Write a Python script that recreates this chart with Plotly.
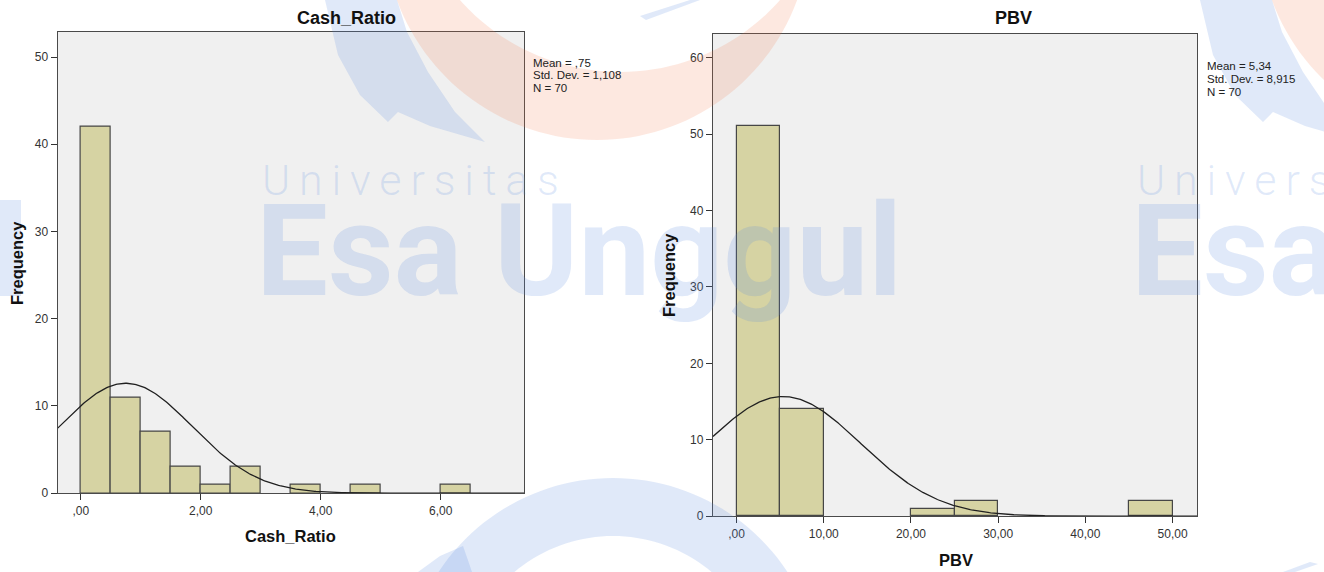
import numpy as np
import plotly.graph_objects as go

# ---------------- data ----------------
cash_bin_start = 0.0
cash_bin_width = 0.5
cash_counts = [42, 11, 7, 3, 1, 3, 0, 1, 0, 1, 0, 0, 1]
cash_mean, cash_sd, cash_n = 0.75, 1.108, 70
cash_tickvals = [0, 2, 4, 6]
cash_ticktext = [",00", "2,00", "4,00", "6,00"]
cash_yticks = [0, 10, 20, 30, 40, 50]
cash_stats = ["Mean = ,75", "Std. Dev. = 1,108", "N = 70"]

pbv_bin_start = 0.0
pbv_bin_width = 5.0
pbv_counts = [51, 14, 0, 0, 1, 2, 0, 0, 0, 2]
pbv_mean, pbv_sd, pbv_n = 5.34, 8.915, 70
pbv_tickvals = [0, 10, 20, 30, 40, 50]
pbv_ticktext = [",00", "10,00", "20,00", "30,00", "40,00", "50,00"]
pbv_yticks = [0, 10, 20, 30, 40, 50, 60]
pbv_stats = ["Mean = 5,34", "Std. Dev. = 8,915", "N = 70"]

# ---------------- layout helpers (pixel -> paper) ----------------
W, H = 1324, 572
def px(x):
    return x / W
def py(y):
    return 1 - y / H

FONT = "Liberation Sans, Arial, sans-serif"
BAR_FILL = "#d6d3a3"
BAR_LINE = "#464646"
PLOT_BG = "#f0f0f0"

fig = go.Figure()

def add_hist(xa, ya, start, width, counts, mean, sd, n, xrange_):
    centers = [start + width * (i + 0.5) for i, c in enumerate(counts) if c > 0]
    vals = [c for c in counts if c > 0]
    fig.add_trace(go.Bar(
        x=centers, y=vals, width=width,
        marker=dict(color=BAR_FILL, line=dict(color=BAR_LINE, width=1.2)),
        xaxis=xa, yaxis=ya, showlegend=False, hoverinfo="skip"))
    xs = np.linspace(xrange_[0], xrange_[1], 400)
    ys = n * width / (sd * np.sqrt(2 * np.pi)) * np.exp(-0.5 * ((xs - mean) / sd) ** 2)
    fig.add_trace(go.Scatter(
        x=xs, y=ys, mode="lines", line=dict(color="#202020", width=1.3),
        xaxis=xa, yaxis=ya, showlegend=False, hoverinfo="skip"))

cash_xrange = [-0.385, 7.39]
pbv_xrange = [-2.7, 52.8]
add_hist("x", "y", cash_bin_start, cash_bin_width, cash_counts, cash_mean, cash_sd, cash_n, cash_xrange)
add_hist("x2", "y2", pbv_bin_start, pbv_bin_width, pbv_counts, pbv_mean, pbv_sd, pbv_n, pbv_xrange)

axis_common = dict(showline=True, mirror=True, linecolor="#4a4a4a", linewidth=1.3,
                   showgrid=False, zeroline=False, ticks="outside", ticklen=6,
                   tickcolor="#333", tickwidth=1.3,
                   tickfont=dict(family=FONT, size=12, color="#333"), automargin=False)

fig.update_layout(
    width=W, height=H, margin=dict(l=0, r=0, t=0, b=0),
    paper_bgcolor="white", plot_bgcolor=PLOT_BG,
    bargap=0,
    xaxis=dict(domain=[px(57.7), px(524)], range=cash_xrange,
               tickvals=cash_tickvals, ticktext=cash_ticktext, anchor="y", **axis_common),
    yaxis=dict(domain=[py(493.2), py(31.7)], range=[0, 52.9],
               tickvals=cash_yticks, anchor="x", **axis_common),
    xaxis2=dict(domain=[px(713), px(1197)], range=pbv_xrange,
                tickvals=pbv_tickvals, ticktext=pbv_ticktext, anchor="y2", **axis_common),
    yaxis2=dict(domain=[py(516.2), py(33.9)], range=[0, 63.1],
                tickvals=pbv_yticks, anchor="x2", **axis_common),
)

# ---------------- watermark (decoration) ----------------
def circle_pts(cx, cy, r, n=160):
    t = np.linspace(0, 2 * np.pi, n, endpoint=False)
    return [(cx + r * np.cos(a), cy + r * np.sin(a)) for a in t]

def poly_path(pts):
    s = "M " + " L ".join(f"{px(x):.5f},{py(y):.5f}" for x, y in pts) + " Z"
    return s

ORANGE = "rgba(245,120,70,0.17)"
BLUE = "rgba(90,140,225,0.19)"

shapes = []
for dx in [0, 875]:
    # orange crescent
    p = poly_path(circle_pts(597 + dx, -73, 213)) + " " + poly_path(circle_pts(620 + dx, -142, 214))
    shapes.append(dict(type="path", path=p, xref="paper", yref="paper", fillcolor=ORANGE,
                       line=dict(width=0), fillrule="evenodd", layer="above"))
    # blue hook
    hook = [(325, 0), (338, 55), (360, 95), (388, 122), (398, 112), (430, 126), (485, 142),
            (455, 112), (428, 72), (407, 32), (397, 0)]
    shapes.append(dict(type="path", path=poly_path([(x + dx, y) for x, y in hook]),
                       xref="paper", yref="paper", fillcolor=BLUE, line=dict(width=0), layer="above"))
    # small blue streak
    streak = [(640, 16), (690, 0), (700, 0), (646, 20)]
    shapes.append(dict(type="path", path=poly_path([(x + dx, y) for x, y in streak]),
                       xref="paper", yref="paper", fillcolor=BLUE, line=dict(width=0), layer="above"))

# bottom blue ring
p = poly_path(circle_pts(613, 687, 209)) + " " + poly_path(circle_pts(613, 689, 153))
shapes.append(dict(type="path", path=p, xref="paper", yref="paper", fillcolor=BLUE,
                   line=dict(width=0), fillrule="evenodd", layer="above"))
tail = [(418, 572), (440, 556), (463, 546), (472, 572)]
shapes.append(dict(type="path", path=poly_path(tail), xref="paper", yref="paper",
                   fillcolor=BLUE, line=dict(width=0), layer="above"))
streak2 = [(1283, 572), (1310, 562), (1318, 564), (1295, 572)]
shapes.append(dict(type="path", path=poly_path(streak2), xref="paper", yref="paper",
                   fillcolor=BLUE, line=dict(width=0), layer="above"))
# stroke of the previous tile's last letter at the left edge
shapes.append(dict(type="rect", x0=px(0), x1=px(21), y0=py(296), y1=py(200),
                   xref="paper", yref="paper", fillcolor=BLUE, line=dict(width=0), layer="above"))
fig.update_layout(shapes=shapes)

ann = []
for x0, word in [(260, "Universitas"), (1135, "Univers")]:
    ann.append(dict(text="\u2009".join(word),
                    x=px(x0), y=py(180), xref="paper", yref="paper", xanchor="left", yanchor="middle",
                    showarrow=False, font=dict(family="Roboto", size=43, color=BLUE, weight=300)))
for x0, word in [(260, "Esa Unggul"), (1135, "Esa")]:
    ann.append(dict(text=word, x=px(x0 - 6), y=py(251), xref="paper", yref="paper",
                    xanchor="left", yanchor="middle", showarrow=False,
                    font=dict(family="Roboto", size=128, color=BLUE, weight=700)))

# ---------------- chart texts ----------------
def txt(t, x, y, size, bold=False, color="#111", xanchor="center", angle=0):
    return dict(text=t, x=px(x), y=py(y), xref="paper", yref="paper", xanchor=xanchor,
                yanchor="middle", showarrow=False, textangle=angle,
                font=dict(family=FONT, size=size, color=color, weight=700 if bold else 400))

ann.append(txt("Cash_Ratio", 346, 17.5, 18, bold=True))
ann.append(txt("PBV", 1013, 18.5, 18, bold=True))
ann.append(txt("Cash_Ratio", 290, 536, 16.5, bold=True))
ann.append(txt("PBV", 956, 560, 16.5, bold=True))
ann.append(txt("Frequency", 17, 263, 16.5, bold=True, angle=-90))
ann.append(txt("Frequency", 669, 275, 16.5, bold=True, angle=-90))
for i, s in enumerate(cash_stats):
    ann.append(txt(s, 531, 62.8 + 12.4 * i, 11.5, color="#222", xanchor="left"))
for i, s in enumerate(pbv_stats):
    ann.append(txt(s, 1205, 66 + 12.8 * i, 11.5, color="#222", xanchor="left"))
fig.update_layout(annotations=ann)

fig.write_html("out.html", config={"displayModeBar": False},
               post_script="document.body.style.margin='0';")
